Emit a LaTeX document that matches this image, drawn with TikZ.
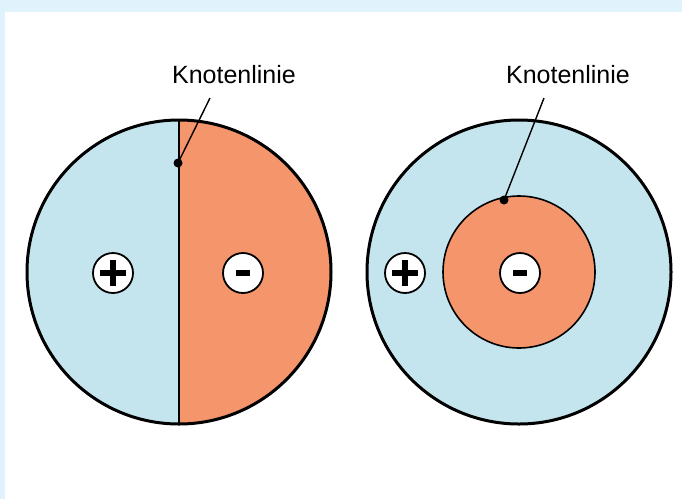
\documentclass[tikz,border=0pt]{standalone}
\usepackage{fontspec}
\setmainfont{Liberation Sans}
\definecolor{frameblue}{HTML}{E0F2FB}
\definecolor{plusblue}{HTML}{C5E5EE}
\definecolor{minusorange}{HTML}{F4956B}
\begin{document}
\begin{tikzpicture}[x=1pt,y=-1pt,
  rim/.style={line width=3pt,draw=black},
  sign/.style={circle,draw=black,line width=1.8pt,fill=white,minimum size=40pt,inner sep=0pt},
  bar/.style={line width=6.5pt},
  label/.style={font=\fontsize{25}{28}\selectfont,inner sep=0pt},
  pointer/.style={line width=1.4pt},
  tipdot/.style={circle,fill=black,inner sep=0pt,minimum size=9pt}]
  % page with light blue frame
  \fill[frameblue] (0,0) rectangle (682,499);
  \fill[white] (5,12) rectangle (682,499);
  \useasboundingbox (0,0) rectangle (682,499);

  % left: half/half division
  \fill[plusblue] (179,272) ++(90:152) arc[start angle=90,end angle=270,radius=152] -- cycle;
  \fill[minusorange] (179,272) ++(-90:152) arc[start angle=-90,end angle=90,radius=152] -- cycle;
  \draw[line width=1.6pt] (179,120) -- (179,424);
  \draw[rim] (179,272) circle[radius=152];
  \node[sign] (lp) at (113,273) {};
  \draw[bar] (100,273) -- (126,273) (113,260) -- (113,286);
  \node[sign] (lm) at (243,273) {};
  \draw[bar] (236,273) -- (250,273);
  \node[label] (ll) at (234,75) {Knotenlinie};
  \node[tipdot] (ld) at (178,163) {};
  \draw[pointer] (210,98) -- (ld.center);

  % right: concentric division
  \fill[plusblue] (519,272) circle[radius=152];
  \draw[rim] (519,272) circle[radius=152];
  \fill[minusorange] (519,272) circle[radius=76];
  \draw[line width=1.6pt] (519,272) circle[radius=76];
  \node[sign] (rp) at (405,273) {};
  \draw[bar] (392,273) -- (418,273) (405,260) -- (405,286);
  \node[sign] (rm) at (520,273) {};
  \draw[bar] (513,273) -- (527,273);
  \node[label] (rl) at (568,75) {Knotenlinie};
  \node[tipdot] (rd) at (504,200) {};
  \draw[pointer] (544,98) -- (rd.center);
\end{tikzpicture}
\end{document}
